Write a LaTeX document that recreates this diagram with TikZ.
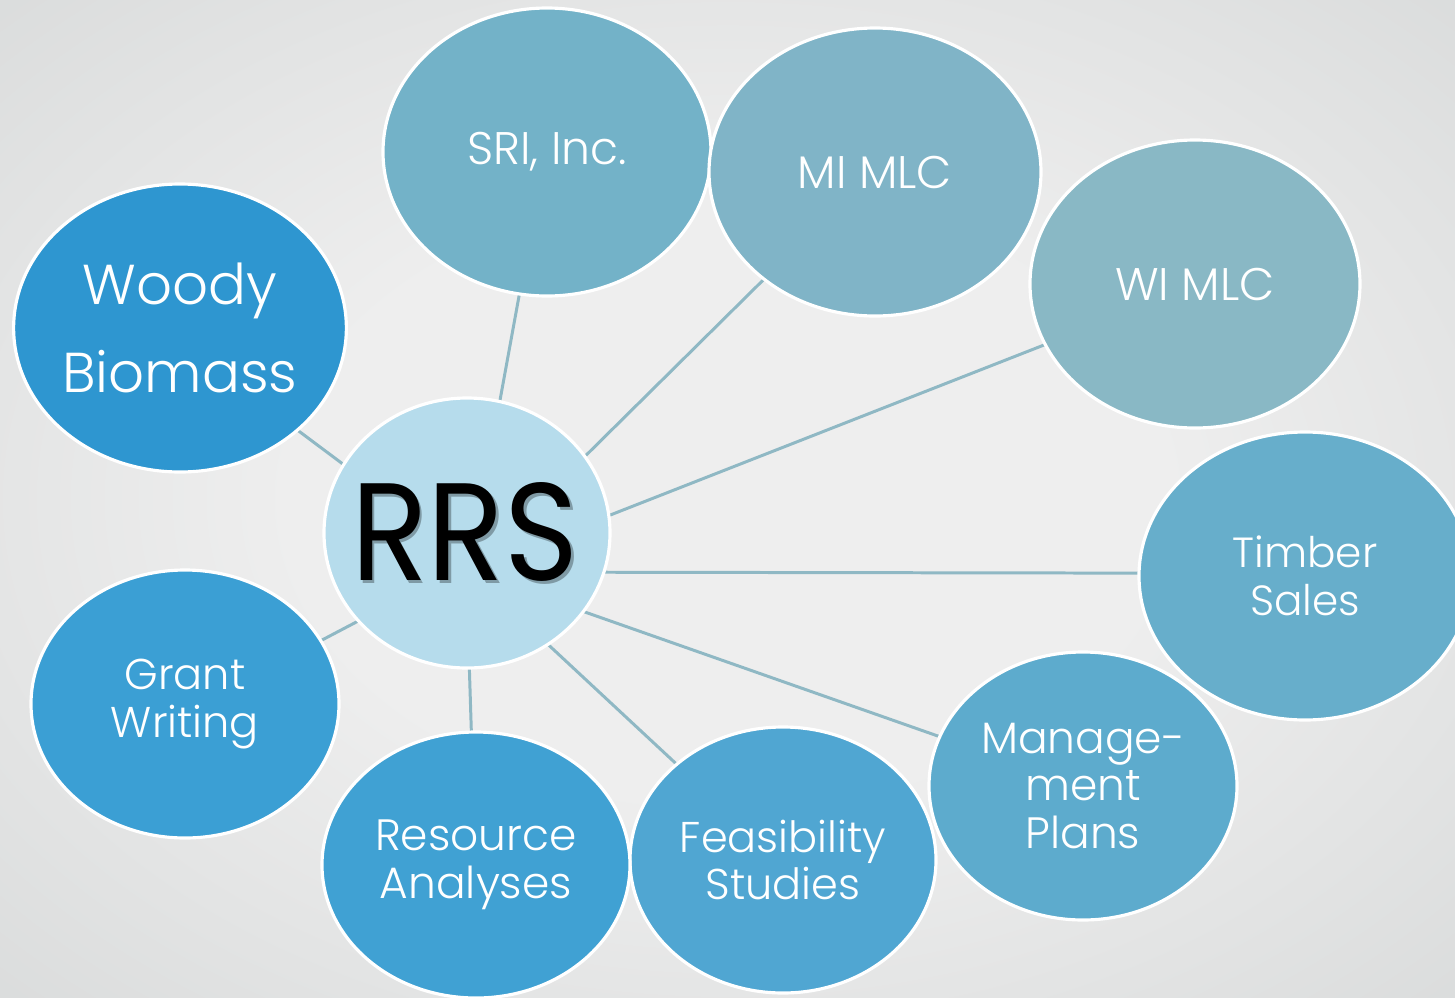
\documentclass[tikz,border=0pt]{standalone}
\usepackage{fontspec}
\setmainfont{Poppins Light}
\newfontfamily\rrsfont{Poppins}
\usetikzlibrary{shapes.geometric,backgrounds}
\definecolor{bgin}{HTML}{EEEEEE}
\definecolor{bgmid}{HTML}{CDD0D0}
\definecolor{bgout}{HTML}{BEC2C2}
\definecolor{linkc}{HTML}{8FB8C4}
\definecolor{csri}{HTML}{73B2C8}
\definecolor{cmi}{HTML}{80B4C7}
\definecolor{cwi}{HTML}{89B8C5}
\definecolor{ctim}{HTML}{67AECB}
\definecolor{cman}{HTML}{5DABCD}
\definecolor{cfea}{HTML}{50A6D2}
\definecolor{cres}{HTML}{40A1D3}
\definecolor{cgra}{HTML}{3B9FD4}
\definecolor{cwoo}{HTML}{2E96D0}
\definecolor{crrs}{HTML}{B6DCEC}
\definecolor{crrsshadow}{HTML}{7F9AA5}
\pgfdeclareradialshading{bgshade}{\pgfpoint{0bp}{0bp}}{color(0bp)=(bgin); color(15bp)=(bgin); color(50bp)=(bgmid); color(71bp)=(bgout)}
\newcommand{\fsz}[2]{\fontsize{#1}{#2}\selectfont}
\tikzset{
  bub/.style={ellipse, draw=white, line width=1.8pt, inner sep=0pt, outer sep=0pt, text=white, align=center},
  sz/.style 2 args={minimum width=#1*0.02cm, minimum height=#2*0.02cm},
  link/.style={draw=linkc, line width=1.7pt},
}
\begin{document}
\begin{tikzpicture}[x=0.02cm, y=-0.02cm]
\useasboundingbox (0,0) rectangle (1455,998);
\begin{pgfonlayer}{background}
\fill[shading=bgshade] (0,0) rectangle (1455,998);
\end{pgfonlayer}
\clip (0,0) rectangle (1455,998);
\node[bub, sz={328}{288}, fill=csri, font=\fsz{26}{30}] (sri) at (547,152) {SRI, Inc.};
\node[bub, sz={332}{288}, fill=cmi, font=\fsz{26}{30}] (mi) at (875,172) {MI MLC};
\node[bub, sz={330}{288}, fill=cwi, font=\fsz{26}{30}] (wi) at (1195,284) {WI MLC};
\node[bub, sz={332}{288}, fill=ctim, font=\fsz{24}{27}] (tim) at (1305,576) {Timber\\Sales};
\node[bub, sz={308}{268}, fill=cman, font=\fsz{25}{27}] (man) at (1083,786) {Manage-\\ment\\Plans};
\node[bub, sz={306}{266}, fill=cfea, font=\fsz{24.5}{27}] (fea) at (783,860) {Feasibility\\Studies};
\node[bub, sz={308}{266}, fill=cres, font=\fsz{25}{27}] (res) at (476,865) {Resource\\Analyses};
\node[bub, sz={308}{268}, fill=cgra, font=\fsz{24.5}{27}] (gra) at (185,704) {Grant\\Writing};
\node[bub, sz={330}{288}, fill=cwoo, font=\fsz{32}{50}] (woo) at (180,328) {Woody\\Biomass};
\node[bub, sz={286}{270}, fill=crrs] (rrs) at (467,533) {};
\node[text=black, inner sep=0pt, font=\rrsfont\fsz{79}{80}] (rrstext) at (465,533)
  {\scalebox{0.91}[1]{\rlap{\kern1.7pt\raisebox{-1.7pt}{\color{crrsshadow}RRS}}RRS}};
\begin{pgfonlayer}{background}
\draw[link] (rrs.76.9) -- (sri.259);
\draw[link] (rrs.33.2) -- (mi.224.5);
\draw[link] (rrs.7.5) -- (wi.202);
\draw[link] (rrs.-16.4) -- (tim.179);
\draw[link] (rrs.-34.9) -- (man.161.6);
\draw[link] (rrs.-54.8) -- (fea.138.3);
\draw[link] (rrs.-89) -- (res.92.5);
\draw[link] (rrs.219.2) -- (gra.25);
\draw[link] (rrs.151.8) -- (woo.-41);
\end{pgfonlayer}
\end{tikzpicture}
\end{document}
